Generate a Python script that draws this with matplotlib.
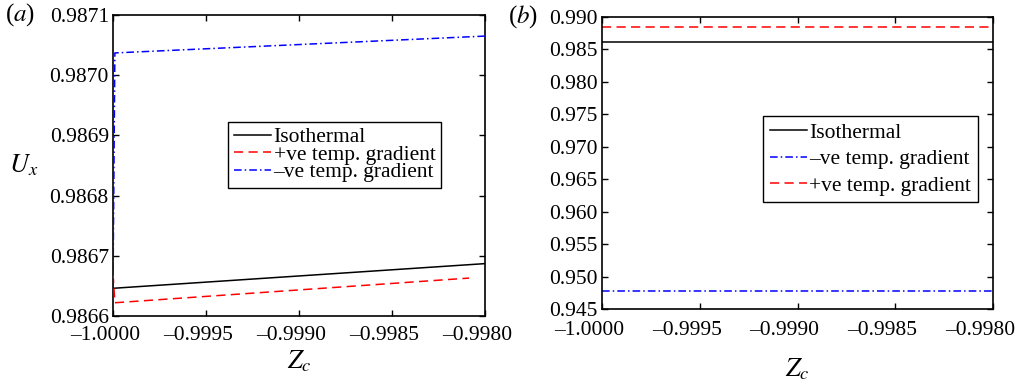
import matplotlib
matplotlib.use("Agg")
import matplotlib.pyplot as plt
from matplotlib.transforms import ScaledTranslation

plt.rcParams["font.family"] = ["Liberation Serif", "DejaVu Serif"]
plt.rcParams["mathtext.fontset"] = "stix"

# (a) near-wall profiles: first point is the wall value at Zc = -1
za_iso = [-1.0, -0.998]
ua_iso = [0.986646, 0.986687]
za_pos = [-1.0, -0.99999, -0.998086]
ua_pos = [0.98667, 0.986622, 0.986663]
za_neg = [-1.0, -0.99999, -0.998]
ua_neg = [0.98665, 0.987037, 0.987065]

# (b) wider view
zb = [-1.0, -0.998]
ub_iso = [0.98610, 0.98610]
ub_neg = [0.94782, 0.94782]
ub_pos = [0.98846, 0.98846]

xticks = [-1.0, -0.9995, -0.999, -0.9985, -0.998]
yticks_a = [0.9866, 0.9867, 0.9868, 0.9869, 0.9870, 0.9871]
yticks_b = [0.945, 0.950, 0.955, 0.960, 0.965, 0.970, 0.975, 0.980, 0.985, 0.990]

FS = 15.5
DASH = (0, (6, 3.5))
DASHDOT = (0, (5, 2, 1, 2))

fig = plt.figure(figsize=(10.19, 3.82), dpi=100)
ax1 = fig.add_axes([0.1109, 0.1728, 0.3651, 0.7879])
ax2 = fig.add_axes([0.5908, 0.1911, 0.3837, 0.7644])


def style(ax, yt, yfmt, xshift, xpad):
    ax.set_xlim(-1.0, -0.998)
    ax.set_xticks(xticks)
    ax.set_xticklabels([f"{v:.4f}".replace("-", "\u2013") for v in xticks])
    ax.set_yticks(yt)
    ax.set_yticklabels([yfmt.format(v) for v in yt])
    ax.tick_params(direction="in", top=True, right=True, length=4, width=1,
                   labelsize=FS)
    ax.tick_params(axis="x", pad=xpad)
    ax.tick_params(axis="y", pad=3)
    off = ScaledTranslation(xshift / 100, 0, fig.dpi_scale_trans)
    for lab in ax.get_xticklabels():
        lab.set_transform(lab.get_transform() + off)
    for s in ax.spines.values():
        s.set_linewidth(1.2)


ax1.plot(za_iso, ua_iso, color="black", lw=1.1, label="Isothermal", zorder=2)
ax1.plot(za_pos, ua_pos, color="red", lw=1.1, linestyle=DASH,
         label="+ve temp. gradient", zorder=3)
ax1.plot(za_neg, ua_neg, color="blue", lw=1.1, linestyle=DASHDOT,
         label="\u2013ve temp. gradient", zorder=4)
ax1.set_ylim(0.9866, 0.9871)
style(ax1, yticks_a, "{:.4f}", -8, 7)
ax1.set_xlabel(r"$Z_c$", fontsize=19, va="center")
ax1.xaxis.set_label_coords(0.5, -0.15)
ax1.set_ylabel(r"$U_x$", fontsize=19, rotation=0, va="center")
ax1.yaxis.set_label_coords(-0.24, 0.5)
ax1.legend(loc="upper left", bbox_to_anchor=(0.31, 0.645), fontsize=FS,
           frameon=True, fancybox=False, edgecolor="black", framealpha=1,
           handlelength=1.75, handletextpad=0.1, labelspacing=-0.12,
           borderpad=0.25, borderaxespad=0)
ax1.text(-0.29, 1.0, "($a$)", transform=ax1.transAxes, fontsize=18,
         va="center", ha="left")

ax2.plot(zb, ub_iso, color="black", lw=1.1, label="Isothermal")
ax2.plot(zb, ub_neg, color="blue", lw=1.1, linestyle=DASHDOT,
         label="\u2013ve temp. gradient")
ax2.plot(zb, ub_pos, color="red", lw=1.1, linestyle=DASH,
         label="+ve temp. gradient")
ax2.set_ylim(0.945, 0.990)
style(ax2, yticks_b, "{:.3f}", -13, 9)
ax2.set_xlabel(r"$Z_c$", fontsize=19, va="center")
ax2.xaxis.set_label_coords(0.5, -0.205)
ax2.legend(loc="upper left", bbox_to_anchor=(0.412, 0.66), fontsize=FS,
           frameon=True, fancybox=False, edgecolor="black", framealpha=1,
           handlelength=1.75, handletextpad=0.1, labelspacing=0.3,
           borderpad=0.3, borderaxespad=0)
ax2.text(-0.24, 1.0, "($b$)", transform=ax2.transAxes, fontsize=18,
         va="center", ha="left")

fig.savefig("out.png", dpi=100)
